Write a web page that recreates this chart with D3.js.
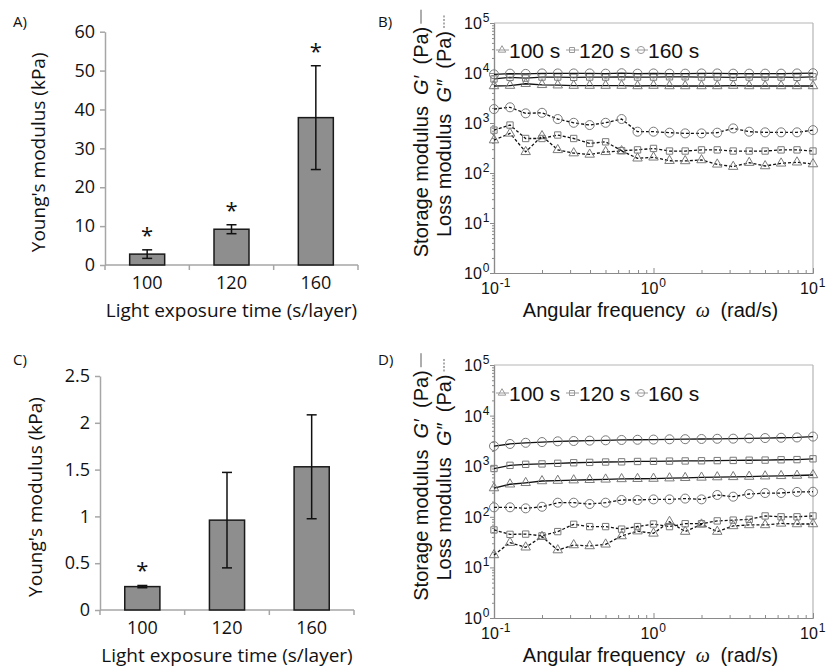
<!DOCTYPE html>
<html>
<head>
<meta charset="utf-8">
<script src="https://cdn.jsdelivr.net/npm/d3@7"></script>
<style>
  body { margin: 0; background: #fff; }
  svg { display: block; }
</style>
</head>
<body>
<script>
// bar charts (Young's modulus)
const categories = ["100", "120", "160"];
const aTicks = [0, 10, 20, 30, 40, 50, 60];
const aValues = [2.8, 9.2, 37.9];
const aErr = [1.1, 1.15, 13.35];
const aStars = [true, true, true];
const cTicks = [0, 0.5, 1, 1.5, 2, 2.5];
const cValues = [0.25, 0.96, 1.53];
const cErr = [0.012, 0.51, 0.555];
const cStars = [true, false, false];

// rheology (frequency sweeps)
const omega = [0.1, 0.126, 0.158, 0.2, 0.251, 0.316, 0.398, 0.501, 0.631, 0.794, 1,
               1.26, 1.58, 2, 2.51, 3.16, 3.98, 5.01, 6.31, 7.94, 10];
const legendLabels = ["100 s", "120 s", "160 s"];
const markerShapes = ["triangle", "square", "circle"];

const bStorage100 = [5500, 5600, 6100, 5800, 5700, 5600, 5600, 5600, 5600, 5500, 5600, 5500, 5500, 5500, 5500, 5600, 5500, 5500, 5500, 5500, 5500];
const bStorage120 = [7600, 8200, 7900, 8300, 8300, 8200, 8300, 8300, 8400, 8300, 8300, 8400, 8400, 8300, 8300, 8200, 8300, 8300, 8300, 8200, 8400];
const bStorage160 = [9400, 9700, 9600, 9800, 9800, 9800, 9800, 9700, 9900, 9700, 9800, 9700, 9700, 9800, 9800, 9700, 9700, 9700, 9700, 9800, 9900];
const bLoss100 = [455, 620, 265, 550, 290, 250, 235, 265, 275, 197, 206, 176, 174, 182, 149, 134, 161, 138, 156, 164, 151];
const bLoss120 = [720, 910, 490, 490, 575, 490, 390, 420, 280, 290, 310, 275, 275, 290, 290, 275, 275, 275, 290, 290, 275];
const bLoss160 = [1900, 2060, 1560, 1600, 1200, 1010, 910, 1010, 1200, 670, 670, 640, 620, 620, 640, 780, 670, 650, 650, 650, 720];

const dStorage100 = [370, 440, 470, 510, 520, 530, 540, 550, 560, 565, 570, 580, 590, 600, 610, 615, 625, 635, 645, 655, 670];
const dStorage120 = [900, 1040, 1090, 1110, 1140, 1170, 1190, 1210, 1220, 1240, 1250, 1260, 1270, 1280, 1290, 1300, 1310, 1320, 1340, 1350, 1400];
const dStorage160 = [2500, 2750, 2900, 3000, 3100, 3150, 3200, 3250, 3300, 3330, 3360, 3400, 3420, 3450, 3480, 3500, 3550, 3600, 3650, 3700, 3850];
const dLoss100 = [17.6, 30.8, 25, 40.5, 22, 27.7, 26.5, 28.6, 41.7, 52, 47, 80, 51, 71, 51, 66, 69, 69, 74, 72, 72];
const dLoss120 = [55, 45, 45.5, 42, 51, 71, 64, 64, 57, 64, 72, 64, 73, 73, 83, 86, 89, 104, 100, 100, 104];
const dLoss160 = [154, 154, 147, 158, 190, 190, 179, 190, 215, 215, 221, 221, 229, 221, 270, 250, 282, 295, 295, 310, 313];

const svg = d3.select("body").append("svg")
    .attr("width", 826)
    .attr("height", 669);

const barFont = "'Open Sans', 'DejaVu Sans', sans-serif";
const plotFont = "'Liberation Sans', Arial, sans-serif";

function panelLabel(text, x, y) {
    svg.append("text")
        .attr("x", x).attr("y", y)
        .attr("font-family", barFont)
        .attr("font-size", 15)
        .attr("fill", "#111")
        .text(text);
}

function drawBars(cfg) {
    const g = svg.append("g");
    const x = d3.scaleBand()
        .domain(categories)
        .range([cfg.left, cfg.right])
        .paddingInner(0.585)
        .paddingOuter(0.2925);
    const y = d3.scaleLinear()
        .domain([0, cfg.max])
        .range([cfg.bottom, cfg.top]);

    // y axis
    const yAxis = g.append("g")
        .attr("transform", `translate(${cfg.left},0)`)
        .call(d3.axisLeft(y).tickValues(cfg.ticks).tickFormat(d3.format("~g"))
            .tickSize(5).tickSizeOuter(0).tickPadding(5));
    yAxis.select(".domain").attr("stroke", "#a6a6a6").attr("stroke-width", 1.5);
    yAxis.selectAll(".tick line").attr("stroke", "#a6a6a6").attr("stroke-width", 1.5);
    yAxis.selectAll(".tick text")
        .attr("font-family", barFont).attr("font-size", 18).attr("fill", "#111");

    // x axis (category boundary ticks, Excel style)
    g.append("line")
        .attr("x1", cfg.left).attr("x2", cfg.right)
        .attr("y1", cfg.bottom).attr("y2", cfg.bottom)
        .attr("stroke", "#a6a6a6").attr("stroke-width", 1.5);
    const bounds = [cfg.left].concat(categories.map(c => x(c) + x.bandwidth() + x.step() * x.paddingInner() / 2));
    bounds[bounds.length - 1] = cfg.right;
    g.selectAll(".xb").data(bounds).enter().append("line")
        .attr("x1", d => d).attr("x2", d => d)
        .attr("y1", cfg.bottom).attr("y2", cfg.bottom + 5)
        .attr("stroke", "#a6a6a6").attr("stroke-width", 1.5);
    g.selectAll(".xl").data(categories).enter().append("text")
        .attr("x", d => x(d) + x.bandwidth() / 2)
        .attr("y", cfg.bottom + 24)
        .attr("text-anchor", "middle")
        .attr("font-family", barFont).attr("font-size", 18).attr("fill", "#111")
        .text(d => d);

    // bars
    g.selectAll(".bar").data(cfg.values).enter().append("rect")
        .attr("x", (d, i) => x(categories[i]))
        .attr("y", d => y(d))
        .attr("width", x.bandwidth())
        .attr("height", d => cfg.bottom - y(d))
        .attr("fill", "#8e8e8e")
        .attr("stroke", "#1a1a1a")
        .attr("stroke-width", 1.5);

    // error bars
    cfg.values.forEach((v, i) => {
        const cx = x(categories[i]) + x.bandwidth() / 2;
        const hi = y(v + cfg.err[i]), lo = y(v - cfg.err[i]);
        g.append("line").attr("x1", cx).attr("x2", cx).attr("y1", hi).attr("y2", lo)
            .attr("stroke", "#111").attr("stroke-width", 1.5);
        [hi, lo].forEach(yy => {
            g.append("line").attr("x1", cx - 5).attr("x2", cx + 5).attr("y1", yy).attr("y2", yy)
                .attr("stroke", "#111").attr("stroke-width", 1.5);
        });
        if (cfg.stars[i]) {
            g.append("text")
                .attr("x", cx).attr("y", hi - 7)
                .attr("text-anchor", "middle")
                .attr("font-family", barFont).attr("font-size", 22).attr("fill", "#111")
                .text("*");
        }
    });

    // axis titles
    g.append("text")
        .attr("transform", `translate(${cfg.ylabelX},${(cfg.top + cfg.bottom) / 2 + 4}) rotate(-90)`)
        .attr("text-anchor", "middle")
        .attr("font-family", barFont).attr("font-size", 19).attr("fill", "#111")
        .text("Young's modulus (kPa)");
    g.append("text")
        .attr("x", (cfg.left + cfg.right) / 2)
        .attr("y", cfg.bottom + 52)
        .attr("text-anchor", "middle")
        .attr("font-family", barFont).attr("font-size", 19).attr("fill", "#111")
        .text("Light exposure time (s/layer)");
}

function marker(sel, shape, size) {
    const sym = shape === "triangle" ? d3.symbolTriangle2 : shape === "square" ? d3.symbolSquare2 : d3.symbolCircle2;
    const area = shape === "triangle" ? size * 1.0 : shape === "square" ? size * 0.8 : size;
    return sel.append("path").attr("d", d3.symbol(sym, area)());
}

function supLabel(g, x, y, exp, anchor) {
    const t = g.append("text")
        .attr("x", x).attr("y", y)
        .attr("text-anchor", anchor)
        .attr("font-family", plotFont).attr("font-size", 16).attr("fill", "#111");
    t.append("tspan").text("10");
    t.append("tspan").attr("dy", -7).attr("font-size", 12).attr("dx", 1).text(exp);
    return t;
}

function drawRheo(cfg) {
    const g = svg.append("g");
    const x = d3.scaleLog().domain([0.1, 10]).range([cfg.left, cfg.right]);
    const y = d3.scaleLog().domain([1, 1e5]).range([cfg.bottom, cfg.top]);

    // frame
    g.append("line").attr("x1", cfg.left).attr("x2", cfg.right).attr("y1", cfg.top).attr("y2", cfg.top)
        .attr("stroke", "#b5b5b5").attr("stroke-width", 1.2);
    g.append("line").attr("x1", cfg.right).attr("x2", cfg.right).attr("y1", cfg.top).attr("y2", cfg.bottom)
        .attr("stroke", "#b5b5b5").attr("stroke-width", 1.2);

    const yMajor = [1, 10, 100, 1000, 10000, 100000];
    const yMinor = [];
    for (let e = 0; e < 5; e++) for (let m = 2; m < 10; m++) yMinor.push(m * Math.pow(10, e));
    const xMajor = [0.1, 1, 10];
    const xMinor = [];
    for (let e = -1; e < 1; e++) for (let m = 2; m < 10; m++) xMinor.push(m * Math.pow(10, e));

    const styleAxis = a => {
        a.select(".domain").attr("stroke", "#8a8a8a").attr("stroke-width", 1.2);
        a.selectAll(".tick line").attr("stroke", "#8a8a8a");
        a.selectAll(".tick text").remove();
    };
    g.append("g").attr("transform", `translate(${cfg.left},0)`)
        .call(d3.axisLeft(y).tickValues(yMinor).tickSize(2).tickSizeOuter(0)).call(styleAxis);
    g.append("g").attr("transform", `translate(${cfg.left},0)`)
        .call(d3.axisLeft(y).tickValues(yMajor).tickSize(4).tickSizeOuter(0)).call(styleAxis);
    g.append("g").attr("transform", `translate(0,${cfg.bottom})`)
        .call(d3.axisTop(x).tickValues(xMinor).tickSize(3).tickSizeOuter(0)).call(styleAxis);
    g.append("g").attr("transform", `translate(0,${cfg.bottom})`)
        .call(d3.axisTop(x).tickValues(xMajor).tickSize(5).tickSizeOuter(0)).call(styleAxis);

    yMajor.forEach(v => supLabel(g, cfg.left - 30, y(v) + 6, String(Math.round(Math.log10(v))), "start"));
    xMajor.forEach(v => supLabel(g, x(v) - 13, cfg.bottom + 21, String(Math.round(Math.log10(v))), "start"));

    // series
    const line = d3.line().x((d, i) => x(omega[i])).y(d => y(d));
    const series = [
        { data: cfg.storage[0], shape: "triangle", dash: null },
        { data: cfg.storage[1], shape: "square", dash: null },
        { data: cfg.storage[2], shape: "circle", dash: null },
        { data: cfg.loss[0], shape: "triangle", dash: "3,2" },
        { data: cfg.loss[1], shape: "square", dash: "3,2" },
        { data: cfg.loss[2], shape: "circle", dash: "3,2" }
    ];
    series.forEach(s => {
        g.append("path").datum(s.data)
            .attr("d", line)
            .attr("fill", "none")
            .attr("stroke", "#111")
            .attr("stroke-width", 1.3)
            .attr("stroke-dasharray", s.dash);
        const mg = g.append("g");
        s.data.forEach((v, i) => {
            marker(mg, s.shape, 64)
                .attr("transform", `translate(${x(omega[i])},${y(v)})`)
                .attr("fill", "none")
                .attr("stroke", "#7a7a7a")
                .attr("stroke-width", 1);
        });
    });

    // legend
    const legendStarts = [cfg.left + 3, cfg.left + 73, cfg.left + 142];
    legendLabels.forEach((lab, i) => {
        const lx = legendStarts[i], ly = cfg.legendY;
        g.append("line").attr("x1", lx - 1).attr("x2", lx + 12).attr("y1", ly).attr("y2", ly)
            .attr("stroke", "#9a9a9a").attr("stroke-width", 1);
        marker(g, markerShapes[i], 40)
            .attr("transform", `translate(${lx + 5},${ly})`)
            .attr("fill", "none").attr("stroke", "#9a9a9a").attr("stroke-width", 1);
        g.append("text")
            .attr("x", lx + 12).attr("y", ly + 8)
            .attr("font-family", plotFont).attr("font-size", 21).attr("fill", "#111")
            .text(lab);
    });

    // axis titles
    const xt = g.append("text")
        .attr("x", (cfg.left + cfg.right) / 2 - 3)
        .attr("y", cfg.bottom + 44)
        .attr("text-anchor", "middle")
        .attr("font-family", plotFont).attr("font-size", 20).attr("fill", "#111");
    xt.append("tspan").text("Angular frequency ");
    xt.append("tspan").attr("font-family", "'Liberation Serif', serif").attr("font-style", "italic").text("\u00a0ω\u00a0");
    xt.append("tspan").text(" (rad/s)");

    const midY = (cfg.top + cfg.bottom) / 2;
    const rows = [
        { xpos: 428, prime: "\u2032", dash: null, shift: 6 },
        { xpos: 451, prime: "\u2033", dash: "2,1.5", shift: 14 }
    ];
    rows.forEach((r, k) => {
        const t = g.append("text")
            .attr("transform", `translate(${r.xpos},${midY - r.shift}) rotate(-90)`)
            .attr("text-anchor", "middle")
            .attr("font-family", plotFont).attr("font-size", 20).attr("fill", "#111");
        t.append("tspan").text(k === 0 ? "Storage modulus\u00a0\u00a0" : "Loss modulus\u00a0\u00a0");
        t.append("tspan").attr("font-style", "italic").text("G" + r.prime);
        t.append("tspan").text("\u00a0\u00a0(Pa)");
        const len = t.node().getComputedTextLength();
        const endY = midY - r.shift - len / 2;
        g.append("line")
            .attr("x1", r.xpos - 7).attr("x2", r.xpos - 7)
            .attr("y1", endY - 3).attr("y2", endY - 17)
            .attr("stroke", "#333").attr("stroke-width", 0.8)
            .attr("stroke-dasharray", r.dash);
    });
}

panelLabel("A)", 13, 27);
panelLabel("B)", 378, 27);
panelLabel("C)", 13, 365);
panelLabel("D)", 378, 365);

drawBars({ left: 105, right: 358, top: 31.7, bottom: 265, max: 60, ticks: aTicks,
           values: aValues, err: aErr, stars: aStars, ylabelX: 45 });
drawBars({ left: 100, right: 354, top: 376, bottom: 610, max: 2.5, ticks: cTicks,
           values: cValues, err: cErr, stars: cStars, ylabelX: 42 });

drawRheo({ left: 494, right: 813, top: 23, bottom: 273, legendY: 50,
           storage: [bStorage100, bStorage120, bStorage160],
           loss: [bLoss100, bLoss120, bLoss160] });
drawRheo({ left: 494, right: 813, top: 365, bottom: 618, legendY: 393,
           storage: [dStorage100, dStorage120, dStorage160],
           loss: [dLoss100, dLoss120, dLoss160] });
</script>
</body>
</html>
